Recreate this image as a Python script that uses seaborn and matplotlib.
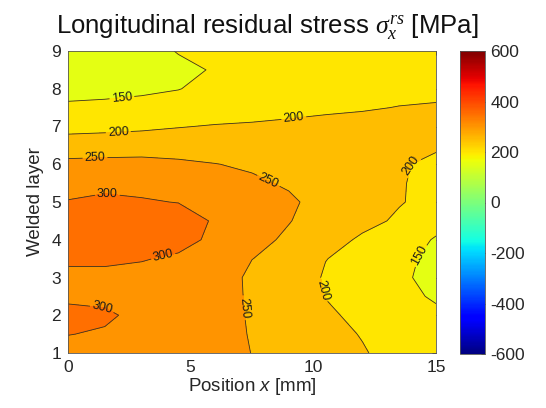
import numpy as np
import matplotlib
matplotlib.use("Agg")
import matplotlib.pyplot as plt
import matplotlib.colors as mcolors
import matplotlib.cm as cm
import seaborn as sns

# ---- data ----
x_pos = [0, 1.5, 3, 4.5, 6, 7.5, 9, 10.5, 12, 13.5, 15]
layers = [1, 1.5, 2, 2.5, 3, 3.5, 4, 4.5, 5, 5.5, 6, 6.5, 7, 7.5, 8, 8.5, 9]
stress = [
    [285, 283, 282, 280, 275, 249, 236, 216, 203, 186, 175],
    [301, 296, 287, 282, 275, 246, 234, 212, 198, 180, 168],
    [312, 306, 290, 283, 274, 244, 232, 206, 191, 172, 158],
    [292, 291, 285, 280, 272, 243, 230, 199, 184, 162, 145],
    [290, 289, 285, 282, 272, 242, 232, 195, 182, 158, 136],
    [307, 308, 303, 293, 280, 250.5, 238, 201, 186, 162, 138],
    [335, 336, 330, 316, 290, 265, 242, 215, 194.5, 180, 145],
    [330, 335, 330, 318, 296, 272, 252, 228, 210, 195, 170],
    [302, 308, 303, 299, 288, 268, 257, 234, 216, 202, 190],
    [285, 290, 290, 285, 272, 257, 245, 235, 222, 203, 188],
    [262, 264, 265, 258, 251, 244, 238, 232, 225, 205, 190],
    [222, 224, 226, 228, 228, 228, 225, 225, 222, 218, 206],
    [185, 188, 192, 198, 203, 205, 207, 210, 212, 214, 212],
    [156, 158, 162, 165, 175, 183, 190, 194, 197, 201, 203],
    [138, 140, 143, 149, 160, 172, 180, 185, 188, 190, 192],
    [125, 128, 132, 141, 153, 165, 175, 180, 183, 186, 188],
    [120, 125, 135, 152, 165, 175, 180, 182, 185, 185, 185],
]
line_levels = [150, 200, 250, 300]
band_bounds = [0, 150, 200, 250, 300, 400]
band_color_values = [150, 200, 250, 300, 350]
cbar_ticks = [-600, -400, -200, 0, 200, 400, 600]
x_ticks = [0, 5, 10, 15]
y_ticks = [1, 2, 3, 4, 5, 6, 7, 8, 9]
label_spots = [(2.2, 7.75), (2.05, 6.85), (9.2, 7.25), (1.1, 6.18), (8.2, 5.6),
               (1.6, 5.18), (3.9, 3.5), (1.4, 2.22), (7.2, 2.2), (14.0, 5.95),
               (10.25, 2.65), (14.3, 3.6)]

# ---- style ----
sns.set_theme(style="white")
plt.rcParams['font.family'] = ['Liberation Sans', 'DejaVu Sans']
plt.rcParams['axes.unicode_minus'] = False
plt.rcParams['mathtext.fontset'] = 'custom'
plt.rcParams['mathtext.it'] = 'Liberation Serif:italic'
plt.rcParams['mathtext.rm'] = 'Liberation Serif'
plt.rcParams['mathtext.sf'] = 'Liberation Sans:italic'

fig = plt.figure(figsize=(5.46, 4.08), dpi=100)
ax = fig.add_axes([68/546, 1-353/408, (436-68)/546, (353-51)/408])
cax = fig.add_axes([460/546, 1-354/408, 25/546, (354-51)/408])

cmap = plt.get_cmap('jet')
norm = mcolors.Normalize(vmin=-600, vmax=600)
band_colors = [cmap(norm(v)) for v in band_color_values]

X, Y = np.meshgrid(np.array(x_pos), np.array(layers))
Z = np.array(stress, dtype=float)

ax.contourf(X, Y, Z, levels=band_bounds, colors=band_colors)
cs = ax.contour(X, Y, Z, levels=line_levels, colors='#3a3520', linewidths=0.6)
ax.clabel(cs, inline=True, fontsize=9, fmt='%d', manual=label_spots, inline_spacing=2,
          colors='#1a1a1a')

ax.set_xlim(0, 15)
ax.set_ylim(1, 9)
ax.set_xticks(x_ticks)
ax.set_yticks(y_ticks)
ax.tick_params(direction='in', top=True, right=True, length=3, width=0.6,
               labelsize=12.5, colors='#262626', pad=5)
for sp in ax.spines.values():
    sp.set_color('#555555')
    sp.set_linewidth(0.6)
ax.set_xlabel(r'Position $\mathsf{x}$ [mm]', fontsize=13.5, color='#262626', labelpad=1)
ax.set_ylabel('Welded layer', fontsize=13.5, color='#262626', labelpad=5)
ax.set_title(r'Longitudinal residual stress $\sigma_x^{rs}$ [MPa]', fontsize=18.5,
             color='#111111', pad=13, x=0.54)

sm = cm.ScalarMappable(norm=norm, cmap=cmap)
cb = fig.colorbar(sm, cax=cax, ticks=cbar_ticks)
cb.ax.tick_params(direction='in', length=3, width=0.6, labelsize=12.5, colors='#262626', pad=4)
cb.outline.set_edgecolor('#555555')
cb.outline.set_linewidth(0.6)

fig.savefig('out.png', dpi=100)
